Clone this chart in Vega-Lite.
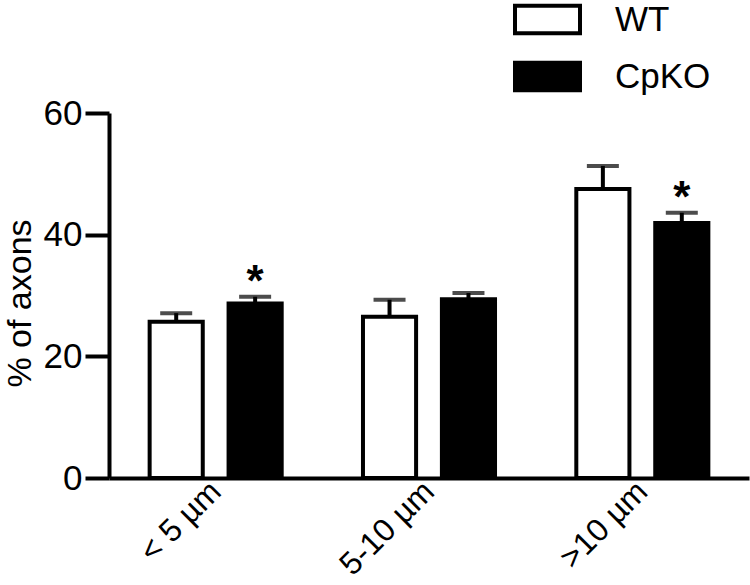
{
  "$schema": "https://vega.github.io/schema/vega-lite/v6.json",
  "width": 640,
  "height": 365,
  "autosize": {"type": "none"},
  "padding": {"left": 109, "top": 113, "right": 1, "bottom": 107},
  "background": "white",
  "config": {
    "font": "Liberation Sans",
    "view": {"stroke": null},
    "axis": {"domainColor": "black", "tickColor": "black", "labelColor": "black", "titleColor": "black", "grid": false}
  },
  "data": {
    "values": [
      {"size": "< 5 µm", "genotype": "WT", "mean": 25.7, "err": 27.1, "sig": ""},
      {"size": "< 5 µm", "genotype": "CpKO", "mean": 28.7, "err": 29.8, "sig": "*"},
      {"size": "5-10 µm", "genotype": "WT", "mean": 26.5, "err": 29.3, "sig": ""},
      {"size": "5-10 µm", "genotype": "CpKO", "mean": 29.4, "err": 30.4, "sig": ""},
      {"size": ">10 µm", "genotype": "WT", "mean": 47.5, "err": 51.3, "sig": ""},
      {"size": ">10 µm", "genotype": "CpKO", "mean": 41.9, "err": 43.6, "sig": "*"}
    ]
  },
  "encoding": {
    "x": {
      "field": "size",
      "type": "nominal",
      "sort": ["< 5 µm", "5-10 µm", ">10 µm"],
      "scale": {"paddingInner": 0.381, "paddingOuter": 0.1905},
      "axis": {
        "title": null,
        "domainWidth": 4,
        "ticks": false,
        "labelAngle": -45,
        "labelAlign": "right",
        "labelBaseline": "middle",
        "labelFontSize": 32,
        "labelPadding": 8
      }
    },
    "xOffset": {
      "field": "genotype",
      "sort": ["WT", "CpKO"],
      "scale": {"paddingInner": 0.327, "paddingOuter": 0}
    }
  },
  "layer": [
    {
      "mark": {"type": "bar", "stroke": "black", "strokeWidth": 4},
      "encoding": {
        "y": {
          "field": "mean",
          "type": "quantitative",
          "scale": {"domain": [0, 60], "nice": false},
          "axis": {
            "title": "% of axons",
            "values": [0, 20, 40, 60],
            "domainWidth": 4,
            "tickWidth": 4,
            "tickSize": 24,
            "labelFontSize": 35,
            "labelPadding": 3,
            "titleFontSize": 34,
            "titleFontWeight": "normal",
            "titleX": -79,
            "titleY": 190,
            "titleAngle": 270,
            "titleAlign": "center",
            "titleBaseline": "alphabetic"
          }
        },
        "fill": {
          "field": "genotype",
          "type": "nominal",
          "scale": {"domain": ["WT", "CpKO"], "range": ["white", "black"]},
          "legend": {
            "title": null,
            "orient": "none",
            "legendX": 404,
            "legendY": -128,
            "symbolType": "M-1,-0.42H1V0.42H-1Z",
            "symbolSize": 4225,
            "symbolStrokeColor": "black",
            "symbolStrokeWidth": 4,
            "labelFontSize": 35,
            "labelOffset": 33,
            "rowPadding": -7,
            "padding": 0
          }
        }
      }
    },
    {
      "mark": {"type": "rule", "strokeWidth": 4, "color": "black"},
      "encoding": {
        "y": {"field": "mean", "type": "quantitative"},
        "y2": {"field": "err"}
      }
    },
    {
      "mark": {"type": "tick", "thickness": 4, "size": 32, "color": "black"},
      "encoding": {
        "y": {"field": "err", "type": "quantitative"}
      }
    },
    {
      "mark": {"type": "text", "fontSize": 44, "fontWeight": "bold", "align": "center", "baseline": "alphabetic", "dy": -1, "color": "black"},
      "encoding": {
        "y": {"field": "err", "type": "quantitative"},
        "text": {"field": "sig"}
      }
    }
  ]
}
